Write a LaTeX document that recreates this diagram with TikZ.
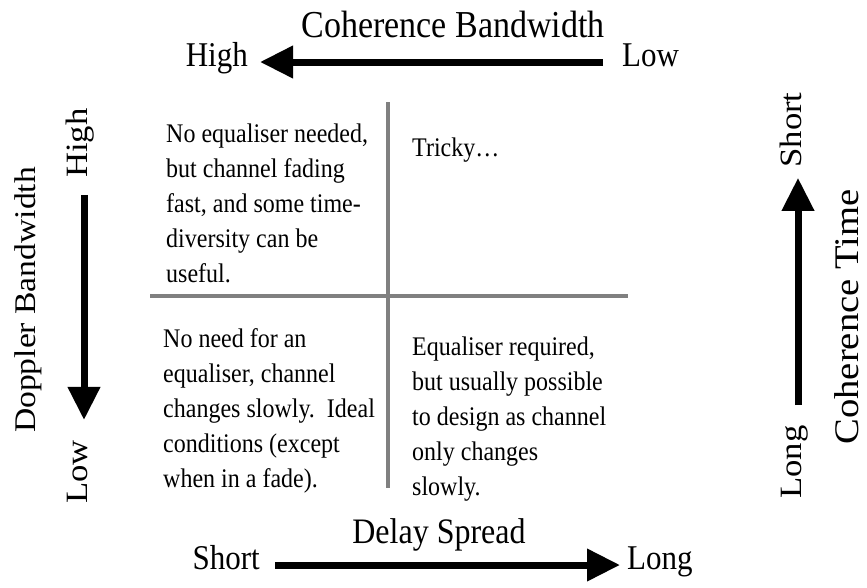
\documentclass[tikz,border=0pt]{standalone}
\usepackage{fontspec}
\setmainfont{Liberation Serif}
\usepackage{tikz}
\usetikzlibrary{arrows.meta,calc,positioning}
\definecolor{gridgray}{RGB}{128,128,128}

\begin{document}
\begin{tikzpicture}[x=1pt,y=-1pt,
  every node/.style={inner sep=0pt,yscale=1.12,transform shape},
  axistitle/.style={font=\fontsize{32}{38}\selectfont},
  endlabel/.style={font=\fontsize{31}{37}\selectfont,text height=0.72em,text depth=0pt},
  celltext/.style={font=\fontsize{24}{31.25}\selectfont,align=left,anchor=north west},
  axisarrow/.style={line width=7pt,-{Triangle[length=33pt,width=31pt]}}]
  \useasboundingbox (0,0) rectangle (867,587);
  % quadrant grid
  \draw[gridgray,line width=3.5pt] (388,102) -- (388,488);
  \draw[gridgray,line width=3.5pt] (150,296) -- (628,296);
  % cells
  \node[celltext] (nw) at (166,124) {No equaliser needed,\\but channel fading\\fast, and some time-\\diversity can be\\useful.};
  \node[celltext] (ne) at (412,138) {Tricky…};
  \node[celltext] (sw) at (163,328) {No need for an\\equaliser, channel\\changes slowly.\ \ Ideal\\conditions (except\\when in a fade).};
  \node[celltext] (se) at (412,337) {Equaliser required,\\but usually possible\\to design as channel\\only changes\\slowly.};
  % coherence bandwidth (top)
  \node[axistitle,font=\fontsize{34}{40}\selectfont,anchor=base] (cbw) at (453,37) {Coherence Bandwidth};
  \node[endlabel,anchor=east] (thigh) at (248,62) {High};
  \node[endlabel,anchor=west] (tlow) at (622,62) {Low};
  \draw[axisarrow,shorten <=19pt,shorten >=12pt] (tlow.west) -- (thigh.east);
  % delay spread (bottom)
  \node[axistitle,anchor=base] (dsp) at (439,543) {Delay Spread};
  \node[endlabel,anchor=east] (bshort) at (260,565) {Short};
  \node[endlabel,anchor=west] (blong) at (627,565) {Long};
  \draw[axisarrow,shorten <=15pt,shorten >=7pt] (bshort.east) -- (blong.west);
  % doppler bandwidth (left)
  \node[axistitle,font=\fontsize{30}{36}\selectfont,rotate=90] (dbw) at (28,300) {Doppler Bandwidth};
  \node[endlabel,rotate=90] (lhigh) at (84,143) {High};
  \node[endlabel,rotate=90] (llow) at (84,472) {Low};
  \draw[axisarrow,shorten <=17pt,shorten >=20pt] (lhigh.west) -- (llow.east);
  % coherence time (right)
  \node[axistitle,font=\fontsize{34.5}{40}\selectfont,rotate=90] (ctime) at (847,317) {Coherence Time};
  \node[endlabel,rotate=90] (rshort) at (798,130) {Short};
  \node[endlabel,rotate=90] (rlong) at (798,462) {Long};
  \draw[axisarrow,shorten <=20pt,shorten >=10pt] (rlong.east) -- (rshort.west);
\end{tikzpicture}
\end{document}
